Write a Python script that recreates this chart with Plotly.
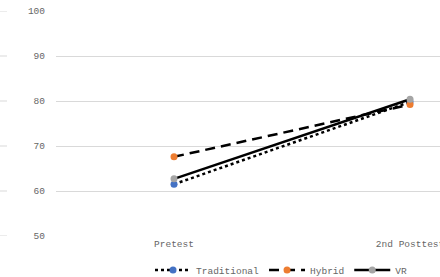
import plotly.graph_objects as go

categories = ["Pretest", "2nd Posttest"]
traditional = [61.5, 79.8]
hybrid = [67.6, 79.2]
vr = [62.7, 80.4]
y_ticks = [50, 60, 70, 80, 90, 100]

x_pos = list(range(len(categories)))
font = dict(family="Liberation Mono, DejaVu Sans Mono, monospace", size=9.5, color="#666666")

fig = go.Figure()
fig.add_trace(go.Scatter(x=x_pos, y=traditional, name="Traditional", mode="lines+markers",
                         line=dict(color="black", width=2.5, dash="dot"),
                         marker=dict(color="#4472C4", size=7)))
fig.add_trace(go.Scatter(x=x_pos, y=hybrid, name="Hybrid", mode="lines+markers",
                         line=dict(color="black", width=2.5, dash="10px,6px"),
                         marker=dict(color="#ED7D31", size=7)))
fig.add_trace(go.Scatter(x=x_pos, y=vr, name="VR", mode="lines+markers",
                         line=dict(color="black", width=2.5),
                         marker=dict(color="#A5A5A5", size=7)))

# remnant gridline stubs at the left edge
for v in y_ticks:
    fig.add_shape(type="line", xref="paper", yref="y", x0=-56/384, x1=-49/384, y0=v, y1=v,
                  line=dict(color="#d9d9d9", width=1))

fig.update_layout(
    width=440, height=277,
    margin=dict(l=56, r=0, t=11, b=41, autoexpand=False),
    paper_bgcolor="white", plot_bgcolor="white",
    font=font,
    showlegend=True,
    legend=dict(orientation="h", x=0.586, xanchor="center", y=-0.151, yanchor="middle",
                font=font, itemwidth=36, traceorder="normal"),
    xaxis=dict(range=[-0.5, 1.127], tickmode="array", tickvals=x_pos, ticktext=categories,
               showgrid=False, zeroline=False, showline=False, ticks="", tickfont=font,
               automargin=False, ticklabeloverflow="allow"),
    yaxis=dict(range=[50, 100], tickvals=y_ticks, showgrid=True, gridcolor="#d9d9d9",
               gridwidth=1, zeroline=False, showline=False, ticks="", tickfont=font,
               ticklabelstandoff=10, automargin=False, ticklabeloverflow="allow"),
)
fig.write_html("out.html", config={"displayModeBar": False},
               post_script="document.body.style.margin='0';")
